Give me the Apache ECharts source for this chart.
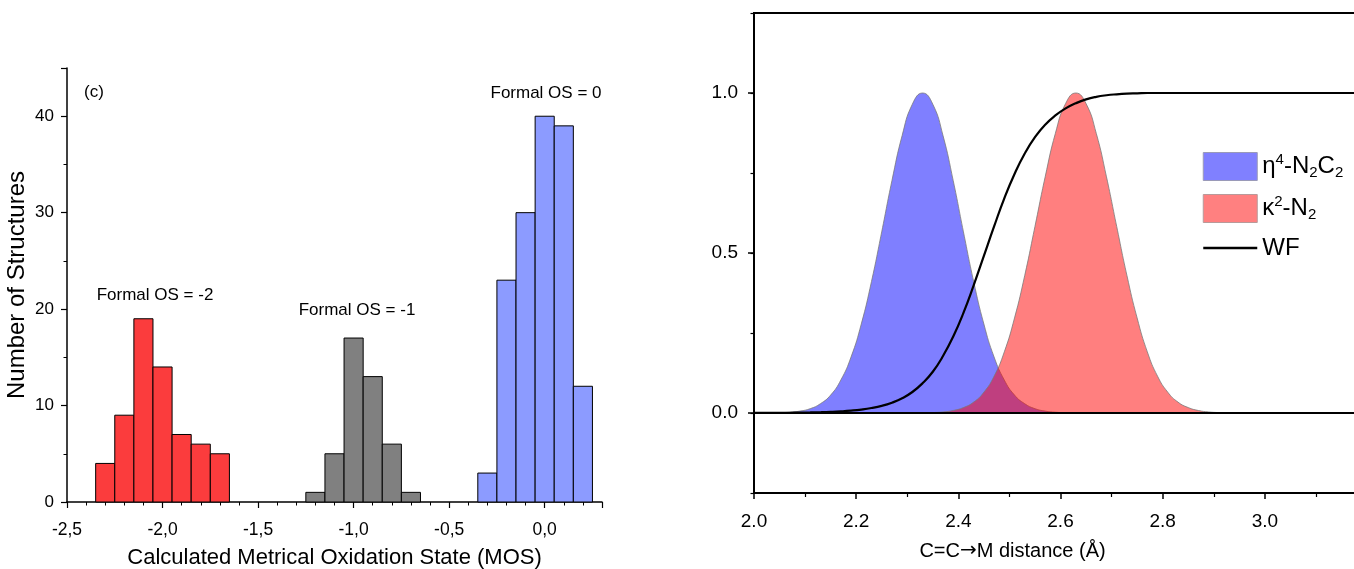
<!DOCTYPE html>
<html>
<head>
<meta charset="utf-8">
<script src="https://cdn.jsdelivr.net/npm/echarts@6/dist/echarts.min.js"></script>
<style>
html,body{margin:0;padding:0;background:#ffffff;}
#chart{width:1354px;height:569px;}
</style>
</head>
<body>
<div id="chart"></div>
<script>
// ---------- Left panel: histogram of MOS ----------
const binWidth = 0.1;
const osMinus2BinStarts = [-2.35, -2.25, -2.15, -2.05, -1.95, -1.85, -1.75];
const osMinus2Counts    = [4, 9, 19, 14, 7, 6, 5];
const osMinus1BinStarts = [-1.25, -1.15, -1.05, -0.95, -0.85, -0.75];
const osMinus1Counts    = [1, 5, 17, 13, 6, 1];
const os0BinStarts      = [-0.35, -0.25, -0.15, -0.05, 0.05, 0.15];
const os0Counts         = [3, 23, 30, 40, 39, 12];
const histLabels = ['(c)', 'Formal OS = 0', 'Formal OS = -2', 'Formal OS = -1'];

// ---------- Right panel: distributions ----------
const distX = [2.00, 2.01, 2.03, 2.05, 2.07, 2.09, 2.11, 2.13, 2.15, 2.17, 2.19,
  2.21, 2.23, 2.25, 2.27, 2.29, 2.31, 2.33, 2.35, 2.37, 2.39,
  2.41, 2.43, 2.45, 2.47, 2.49, 2.51, 2.53, 2.55, 2.57, 2.59,
  2.61, 2.63, 2.65, 2.67, 2.69, 2.71, 2.73, 2.75, 2.77, 2.79,
  2.81, 2.83, 2.85, 2.87, 2.89, 2.91, 2.93, 2.95, 2.97, 2.99,
  3.01, 3.03, 3.05, 3.07, 3.09, 3.11, 3.13, 3.15, 3.17, 3.19, 3.20];
const etaN2C2 = [0, 0.0001, 0.0003, 0.0009, 0.0025, 0.006, 0.0135, 0.029, 0.056, 0.103, 0.175,
  0.278, 0.411, 0.566, 0.726, 0.867, 0.965, 1.0, 0.965, 0.867, 0.726,
  0.566, 0.411, 0.278, 0.175, 0.103, 0.056, 0.029, 0.0135, 0.006, 0.0025,
  0.0009, 0.0003, 0.0001, 0, 0, 0, 0, 0, 0, 0,
  0, 0, 0, 0, 0, 0, 0, 0, 0, 0,
  0, 0, 0, 0, 0, 0, 0, 0, 0, 0, 0];
const kappaN2 = [0, 0, 0, 0, 0, 0, 0, 0, 0, 0, 0,
  0, 0, 0, 0, 0, 0.0002, 0.0005, 0.0013, 0.0033, 0.0078,
  0.017, 0.034, 0.065, 0.115, 0.191, 0.297, 0.430, 0.583, 0.738, 0.874,
  0.967, 1.0, 0.967, 0.874, 0.738, 0.583, 0.430, 0.297, 0.191, 0.115,
  0.065, 0.034, 0.017, 0.0078, 0.0033, 0.0013, 0.0005, 0.0002, 0, 0,
  0, 0, 0, 0, 0, 0, 0, 0, 0, 0, 0];
const wf = [0.0002, 0.0003, 0.0004, 0.0005, 0.0008, 0.0012, 0.0017, 0.0024, 0.0035, 0.0051, 0.0074,
  0.0107, 0.0155, 0.0223, 0.0323, 0.046, 0.0656, 0.093, 0.129, 0.178, 0.239,
  0.313, 0.399, 0.491, 0.583, 0.671, 0.747, 0.811, 0.862, 0.901, 0.930,
  0.952, 0.968, 0.980, 0.988, 0.993, 0.996, 0.998, 0.999, 1.0, 1.0,
  1.0, 1.0, 1.0, 1.0, 1.0, 1.0, 1.0, 1.0, 1.0, 1.0,
  1.0, 1.0, 1.0, 1.0, 1.0, 1.0, 1.0, 1.0, 1.0, 1.0, 1.0];
const seriesNames = ['eta4-N2C2', 'kappa2-N2', 'WF'];
const rightYTicks = [0, 0.5, 1.0];

const FONT = "'Liberation Sans', Arial, sans-serif";

function histSeries(starts, counts, color) {
  return {
    type: 'custom',
    xAxisIndex: 0, yAxisIndex: 0,
    data: starts.map((s, i) => [s, s + binWidth, counts[i]]),
    encode: { x: [0, 1], y: 2 },
    clip: false,
    z: 1,
    renderItem: function (params, api) {
      const p0 = api.coord([api.value(0), api.value(2)]);
      const p1 = api.coord([api.value(1), 0]);
      return {
        type: 'rect',
        shape: { x: p0[0], y: p0[1], width: p1[0] - p0[0], height: p1[1] - p0[1] },
        style: { fill: color, stroke: '#000000', lineWidth: 1 }
      };
    }
  };
}

const chart = echarts.init(document.getElementById('chart'));
const option = {
  backgroundColor: '#ffffff',
  animation: false,
  textStyle: { fontFamily: FONT },
  grid: [
    { left: 67, top: 68, width: 535, bottom: 67, outerBoundsMode: 'none', containLabel: false },
    { left: 754, top: 13, width: 613, bottom: 76, outerBoundsMode: 'none', containLabel: false,
      show: true, borderColor: '#000', borderWidth: 2, backgroundColor: 'transparent' }
  ],
  xAxis: [
    {
      gridIndex: 0, type: 'value', min: -2.5, max: 0.3, interval: 0.5,
      name: 'Calculated Metrical Oxidation State (MOS)', nameLocation: 'middle', nameGap: 45,
      nameTextStyle: { fontSize: 22, color: '#000', fontFamily: FONT },
      axisLine: { onZero: false, lineStyle: { color: '#000', width: 1.5 } },
      axisTick: { inside: false, length: 6, lineStyle: { color: '#000', width: 1.2 } },
      minorTick: { show: true, splitNumber: 5, length: 3.5, lineStyle: { color: '#000', width: 1 } },
      axisLabel: {
        fontSize: 17.5, color: '#000', margin: 19, fontFamily: FONT,
        formatter: function (v) {
          const r = Math.round(v * 2) / 2;
          if (Math.abs(r - v) > 1e-6) return '';
          return r.toFixed(1).replace('.', ',');
        }
      },
      splitLine: { show: false }
    },
    {
      gridIndex: 1, type: 'value', min: 2.0, max: 3.2, interval: 0.2,
      name: '{t|C=C}{a|\u2192}{t|M distance (\u00C5)}', nameLocation: 'middle', nameGap: 48,
      nameTextStyle: {
        fontSize: 20, color: '#000', fontFamily: FONT, padding: [0, 96, 0, 0],
        rich: {
          t: { fontSize: 20, color: '#000', fontFamily: FONT },
          a: { fontSize: 20, color: '#000', fontFamily: "'DejaVu Sans', sans-serif" }
        }
      },
      axisLine: { onZero: false, lineStyle: { color: '#000', width: 2 } },
      axisTick: { length: 6, lineStyle: { color: '#000', width: 1.5 } },
      minorTick: { show: true, splitNumber: 2, length: 4, lineStyle: { color: '#000', width: 1.2 } },
      axisLabel: { fontSize: 19, color: '#000', margin: 19, fontFamily: FONT,
        formatter: v => (v > 3.1 ? '' : v.toFixed(1)) },
      splitLine: { show: false }
    }
  ],
  yAxis: [
    {
      gridIndex: 0, type: 'value', min: 0, max: 45, interval: 10,
      name: 'Number of Structures', nameLocation: 'middle', nameGap: 38, nameRotate: 90,
      nameTextStyle: { fontSize: 24, color: '#000', fontFamily: FONT },
      axisLine: { show: true, onZero: false, lineStyle: { color: '#000', width: 1.5 } },
      axisTick: { show: true, length: 6, lineStyle: { color: '#000', width: 1.2 } },
      minorTick: { show: true, splitNumber: 2, length: 3.5, lineStyle: { color: '#000', width: 1 } },
      axisLabel: {
        fontSize: 17, color: '#000', margin: 13, fontFamily: FONT,
        formatter: v => (v % 10 === 0 ? String(v) : '')
      },
      splitLine: { show: false }
    },
    {
      gridIndex: 1, type: 'value', min: -0.25, max: 1.25, interval: 0.25, position: 'left',
      axisLine: { show: true, onZero: false, lineStyle: { color: '#000', width: 2 } },
      axisTick: { show: true, length: 6, customValues: rightYTicks, lineStyle: { color: '#000', width: 1.5 } },
      axisLabel: { fontSize: 19, color: '#000', margin: 16, fontFamily: FONT, customValues: rightYTicks,
        formatter: v => v.toFixed(1) },
      splitLine: { show: false }
    },
    {
      gridIndex: 1, type: 'value', min: -0.25, max: 1.25, interval: 0.25, position: 'left', offset: 0,
      axisLine: { show: false, onZero: false },
      axisTick: { show: true, length: 3.5, lineStyle: { color: '#000', width: 1.2 } },
      axisLabel: { show: false },
      splitLine: { show: false }
    }
  ],
  legend: {
    left: 1202, top: 152, orient: 'vertical', itemGap: 13, padding: 0,
    itemWidth: 54, itemHeight: 28,
    textStyle: {
      fontSize: 24, color: '#000', fontFamily: FONT,
      rich: {
        n: { fontSize: 24, lineHeight: 28, fontFamily: FONT, color: '#000' },
        sup: { fontSize: 15, lineHeight: 14, verticalAlign: 'top', fontFamily: FONT, color: '#000' },
        sub: { fontSize: 15, lineHeight: 10, verticalAlign: 'bottom', fontFamily: FONT, color: '#000' }
      }
    },
    formatter: function (name) {
      if (name === seriesNames[0]) return '{n|\u03B7}{sup|4}{n|-N}{sub|2}{n|C}{sub|2}';
      if (name === seriesNames[1]) return '{n|\u03BA}{sup|2}{n|-N}{sub|2}';
      return '{n|WF}';
    },
    data: [
      { name: seriesNames[0], icon: 'rect', itemStyle: { color: 'rgb(128,128,255)', borderColor: '#9a9ab8', borderWidth: 1 } },
      { name: seriesNames[1], icon: 'rect', itemStyle: { color: 'rgb(255,128,128)', borderColor: '#b89a9a', borderWidth: 1 } },
      { name: seriesNames[2], itemStyle: { color: 'rgba(0,0,0,0)', borderWidth: 0, opacity: 0 }, lineStyle: { color: '#000', width: 2.5 } }
    ]
  },
  graphic: [
    { type: 'text', x: 94, y: 92, style: { text: histLabels[0], fontSize: 17, fill: '#000', fontFamily: FONT, align: 'center', verticalAlign: 'middle' } },
    { type: 'text', x: 546, y: 93, style: { text: histLabels[1], fontSize: 17, fill: '#000', fontFamily: FONT, align: 'center', verticalAlign: 'middle' } },
    { type: 'text', x: 155, y: 295, style: { text: histLabels[2], fontSize: 17, fill: '#000', fontFamily: FONT, align: 'center', verticalAlign: 'middle' } },
    { type: 'text', x: 357, y: 310, style: { text: histLabels[3], fontSize: 17, fill: '#000', fontFamily: FONT, align: 'center', verticalAlign: 'middle' } }
  ],
  series: [
    histSeries(osMinus2BinStarts, osMinus2Counts, '#fb3c3d'),
    histSeries(osMinus1BinStarts, osMinus1Counts, '#808080'),
    histSeries(os0BinStarts, os0Counts, '#8c9bff'),
    {
      name: seriesNames[0], type: 'line', xAxisIndex: 1, yAxisIndex: 1,
      data: distX.map((x, i) => [x, etaN2C2[i]]),
      smooth: true, symbol: 'none',
      itemStyle: { color: 'rgb(128,128,255)' },
      lineStyle: { color: '#7a7a7a', width: 0.8 },
      areaStyle: { color: 'rgba(0,0,255,0.5)', opacity: 1 },
      z: 2
    },
    {
      name: seriesNames[1], type: 'line', xAxisIndex: 1, yAxisIndex: 1,
      data: distX.map((x, i) => [x, kappaN2[i]]),
      smooth: true, symbol: 'none',
      itemStyle: { color: 'rgb(255,128,128)' },
      lineStyle: { color: '#7a7a7a', width: 0.8 },
      areaStyle: { color: 'rgba(255,0,0,0.5)', opacity: 1 },
      z: 3
    },
    {
      name: seriesNames[2], type: 'line', xAxisIndex: 1, yAxisIndex: 1,
      data: distX.map((x, i) => [x, wf[i]]),
      smooth: true, symbol: 'none',
      itemStyle: { color: '#000' },
      lineStyle: { color: '#000', width: 2.2 },
      z: 4,
      markLine: {
        silent: true, symbol: 'none', label: { show: false },
        lineStyle: { color: '#000', width: 2.2, type: 'solid' },
        data: [{ yAxis: 0 }]
      }
    }
  ]
};
chart.setOption(option);
</script>
</body>
</html>
